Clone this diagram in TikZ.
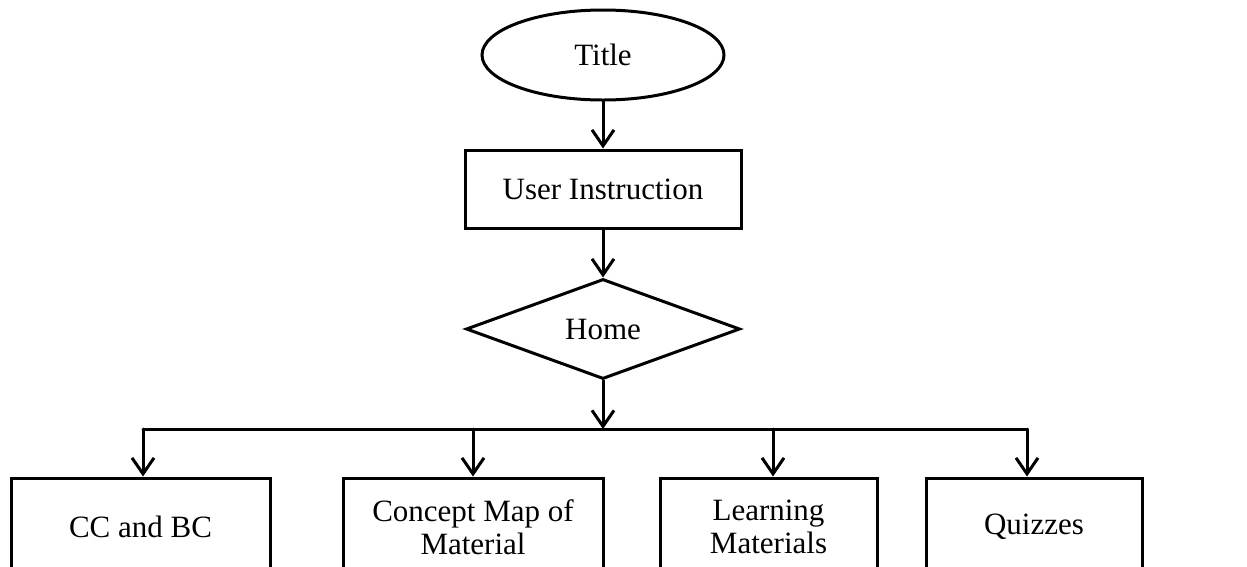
\documentclass[tikz,border=0pt]{standalone}
\usepackage{fontspec}
\setmainfont{Liberation Serif}
\usetikzlibrary{shapes.geometric,arrows.meta}
\begin{document}
\begin{tikzpicture}[x=1pt,y=-1pt,
  every node/.style={font=\fontsize{31}{33}\selectfont, line width=3pt, draw=black, inner sep=0pt},
  boxnode/.style={rectangle, minimum height=98pt, align=center},
  conn/.style={line width=3pt, line cap=round},
  arr/.style={conn, -{Straight Barb[length=16pt,width=22pt,line width=3pt]}}]
\useasboundingbox (0,0) rectangle (1247,566);
\node[ellipse, minimum width=242pt, minimum height=90pt] (title) at (603,55) {Title};
\node[rectangle, minimum width=276pt, minimum height=78pt] (instr) at (603,189) {User Instruction};
\node[diamond, minimum width=274pt, minimum height=100pt] (home) at (603,329) {Home};
\coordinate (j) at (603,429);
\coordinate (jl) at (143,429);
\coordinate (jr) at (1027,429);
\node[boxnode, minimum width=259pt] (b1) at (140.5,527) {CC and BC};
\node[boxnode, minimum width=260pt] (b2) at (473,527) {Concept Map of\\Material};
\node[boxnode, minimum width=217pt] (b3) at (768.5,527) {Learning\\Materials};
\node[boxnode, minimum width=216pt] (b4) at (1034,527) {Quizzes};
\draw[arr] (title.south) -- (instr.north);
\draw[arr] (instr.south) -- (home.north);
\draw[arr] (home.south) -- (j);
\draw[conn] (jl) -- (jr);
\draw[arr] (jl) -- (jl |- b1.north);
\draw[arr] (473,429) -- (473,429 |- b2.north);
\draw[arr] (773,429) -- (773,429 |- b3.north);
\draw[arr] (jr) -- (jr |- b4.north);
\end{tikzpicture}
\end{document}
